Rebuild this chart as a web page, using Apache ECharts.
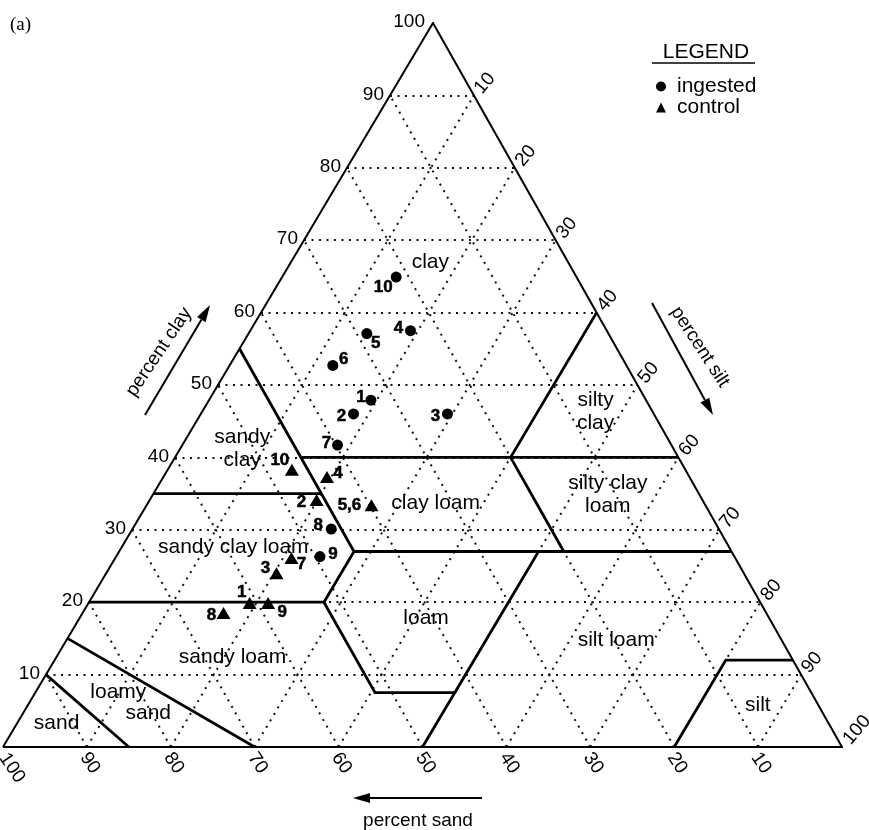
<!DOCTYPE html>
<html>
<head>
<meta charset="utf-8">
<title>soil texture triangle</title>
<script src="https://cdn.jsdelivr.net/npm/echarts@6.0.0/dist/echarts.min.js"></script>
<style>
	html,body{margin:0;padding:0;background:#fff;}
	#main{width:869px;height:830px;}
</style>
</head>
<body>
<div id="main"></div>
<script>
//刻度
var tickValues=[10,20,30,40,50,60,70,80,90,100];
var gridValues=[10,20,30,40,50,60,70,80,90];

//ingested 样点 (sand, silt, clay %)
var ingestedId=["1","2","3","4","5","6","7","8","9","10"];
var ingestedSand=[32.8,35.8,24.6,23.4,28.8,35.0,39.8,46.2,49.4,21.5];
var ingestedSilt=[19.3,18.2,29.4,19.1,14.1,12.3,18.5,23.7,24.3,13.6];
var ingestedClay=[47.9,46.0,46.0,57.5,57.1,52.7,41.7,30.1,26.3,64.9];

//control 样点
var controlId=["1","2","3","4","5,6","7","8","9","10"];
var controlSand=[60.9,46.0,55.7,43.2,39.8,52.9,64.7,58.7,46.9];
var controlSilt=[19.2,19.9,20.3,19.5,26.8,21.0,16.8,21.4,14.8];
var controlClay=[19.9,34.1,24.0,37.3,33.4,26.1,18.5,19.9,38.3];

//土壤质地分区边界 [sand, silt, clay]
var boundaries=[
	[[85,15,0],[90,0,10]],
	[[70,30,0],[85,0,15]],
	[[80,0,20],[52,28,20],[52,40.5,7.5],[42.5,50,7.5],[50,50,0]],
	[[52,28,20],[45,28,27],[45,0,55]],
	[[45,28,27],[23,50,27],[42.5,50,7.5]],
	[[23,50,27],[0,73,27]],
	[[65,0,35],[45,20,35]],
	[[45,15,40],[20,40,40],[0,60,40]],
	[[20,40,40],[20,53,27]],
	[[20,40,40],[0,40,60]],
	[[20,80,0],[8,80,12],[0,88,12]]
];

//分区名称
var regionNames=["clay","silty\nclay","sandy\nclay","clay loam","silty clay\nloam","sandy clay loam","loam","silt loam","sandy loam","loamy","sand","sand","silt"];
var regionSand=[16.4,6.8,51.4,32.0,10.9,59.1,40.9,19.7,66.6,82.6,80.4,92.0,7.2];
var regionSilt=[16.6,46.9,7.4,34.3,54.2,13.3,41.3,65.5,21.0,9.9,14.9,4.7,87.0];
var regionClay=[67.0,46.3,41.2,33.7,34.9,27.6,17.8,14.8,12.4,7.5,4.7,3.3,5.8];

//标签偏移 (px)
var ingestedLabelOffset=[[-10,-3],[-12,2],[-12,2],[-12,-2],[9,10],[11,-6],[-11,-2],[-13,-4],[13,-2],[-13,10]];
var controlLabelOffset=[[-8,-11],[-15,2],[-11,-5],[11,-4],[-22,0],[10,6],[-12,2],[14,9],[-12,-9]];

var FONT="'Liberation Sans', Arial, Helvetica, sans-serif";
var SKEW=0.5125;	//原图三角形略向右倾

function toXY(sand,silt,clay){
	return [silt+SKEW*clay,clay];
}

function arrow(x1,y1,x2,y2){
	var dx=x2-x1,dy=y2-y1,len=Math.sqrt(dx*dx+dy*dy),ux=dx/len,uy=dy/len;
	var hl=17,hw=5;
	var bx=x2-ux*hl,by=y2-uy*hl;
	return [
		{type:'line',shape:{x1:x1,y1:y1,x2:bx,y2:by},style:{stroke:'#000',lineWidth:2}},
		{type:'polygon',shape:{points:[[x2,y2],[bx-uy*hw,by+ux*hw],[bx+uy*hw,by-ux*hw]]},style:{fill:'#000'}}
	];
}

function textEl(x,y,str,opt){
	opt=opt||{};
	return {
		type:'text',x:x,y:y,rotation:(opt.rot||0)*Math.PI/180,
		style:{
			text:str,fill:'#000',
			fontSize:opt.size||19,fontFamily:opt.family||FONT,fontWeight:opt.weight||'normal',
			align:opt.align||'center',textAlign:opt.align||'center',
			verticalAlign:'middle',textVerticalAlign:'middle',
			lineHeight:opt.lh||23
		}
	};
}

var myChart=echarts.init(document.getElementById('main'));

//网格虚线
var gridLines=[];
gridValues.forEach(function(v){
	gridLines.push({coords:[toXY(100-v,0,v),toXY(0,100-v,v)]});	//clay
	gridLines.push({coords:[toXY(v,100-v,0),toXY(v,0,100-v)]});	//sand
	gridLines.push({coords:[toXY(100-v,v,0),toXY(0,v,100-v)]});	//silt
});

var boundaryLines=boundaries.map(function(pl){
	return {coords:pl.map(function(p){return toXY(p[0],p[1],p[2]);})};
});

var outline=[{coords:[toXY(100,0,0),toXY(0,100,0),toXY(0,0,100),toXY(100,0,0)]}];

var ingestedData=ingestedId.map(function(id,i){
	return {name:id,value:toXY(ingestedSand[i],ingestedSilt[i],ingestedClay[i]),label:{offset:ingestedLabelOffset[i]}};
});
var controlData=controlId.map(function(id,i){
	return {name:id,value:toXY(controlSand[i],controlSilt[i],controlClay[i]),label:{offset:controlLabelOffset[i]}};
});

var pointLabel={
	show:true,position:'inside',formatter:'{b}',
	color:'#000',fontSize:17,fontWeight:'bold',fontFamily:FONT,
	textBorderColor:'#000',textBorderWidth:0.5
};

var option={
	animation:false,
	backgroundColor:'#fff',
	grid:{left:3,top:23,width:839,height:724},
	xAxis:{type:'value',min:0,max:100,show:false},
	yAxis:{type:'value',min:0,max:100,show:false},
	legend:{
		orient:'vertical',left:651,top:71,
		itemWidth:10,itemHeight:10,itemGap:0,
		selectedMode:false,
		textStyle:{fontSize:21,fontFamily:FONT,color:'#000',lineHeight:21,padding:[0,0,0,6]},
		data:[{name:'ingested',icon:'circle'},{name:'control',icon:'triangle'}]
	},
	series:[
		{
			type:'lines',coordinateSystem:'cartesian2d',silent:true,z:1,
			lineStyle:{color:'#111',width:2,type:[2,5.5],opacity:1},
			data:gridLines
		},
		{
			type:'lines',coordinateSystem:'cartesian2d',polyline:true,silent:true,z:2,
			lineStyle:{color:'#000',width:2,opacity:1},
			data:outline
		},
		{
			type:'lines',coordinateSystem:'cartesian2d',polyline:true,silent:true,z:3,
			lineStyle:{color:'#000',width:2.8,opacity:1},
			data:boundaryLines
		},
		{
			name:'ingested',type:'scatter',z:5,
			symbol:'circle',symbolSize:11,
			itemStyle:{color:'#000',opacity:1},
			label:pointLabel,
			data:ingestedData
		},
		{
			name:'control',type:'scatter',z:5,
			symbol:'triangle',symbolSize:[14,12],
			itemStyle:{color:'#000',opacity:1},
			label:pointLabel,
			data:controlData
		}
	]
};
myChart.setOption(option);

//文字: 刻度, 分区名, 轴标题
var px=function(p){return myChart.convertToPixel({gridIndex:0},p);};
var g=[];
tickValues.forEach(function(v){
	var big=v==100;
	var c=px(toXY(100-v,0,v));
	g.push(textEl(c[0]-(big?8:6),c[1]-1,String(v),{align:'right'}));
	var s=px(toXY(0,v,100-v));
	g.push(textEl(s[0]+(big?15:11),s[1]-(big?17:12),String(v),{rot:50}));
	var d=px(toXY(v,100-v,0));
	g.push(textEl(d[0]+(big?9:3),d[1]+(big?21:16),String(v),{rot:-56}));
});
regionNames.forEach(function(n,i){
	var p=px(toXY(regionSand[i],regionSilt[i],regionClay[i]));
	g.push(textEl(p[0],p[1],n,{size:21}));
});
g.push(textEl(10,25,'(a)',{size:19,family:"'Liberation Serif', 'Times New Roman', serif",align:'left'}));
g.push(textEl(706,52,'LEGEND',{size:21}));
g.push({type:'line',shape:{x1:652,y1:63,x2:755,y2:63},style:{stroke:'#000',lineWidth:1.5}});
g.push(textEl(159,352,'percent clay',{size:19,rot:56}));
g.push(textEl(700,347,'percent silt',{size:19,rot:-57}));
g.push(textEl(418,821,'percent sand',{size:19}));
g=g.concat(arrow(145,415,210,305),arrow(652,303,713,415),arrow(482,798,353,798));
myChart.setOption({graphic:{elements:g}});
</script>
</body>
</html>
